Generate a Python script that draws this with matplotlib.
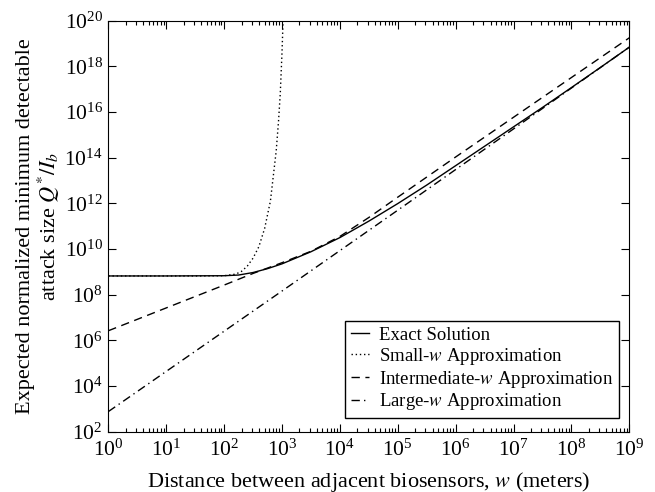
import numpy as np
import matplotlib
matplotlib.use("Agg")
import matplotlib.pyplot as plt
from matplotlib.ticker import LogLocator, NullLocator

plt.rcParams['font.family'] = ['Liberation Serif', 'DejaVu Serif']
plt.rcParams['mathtext.fontset'] = 'stix'

# ---- data (log10 values) ----
exact_logw = [0, 1, 2, 2.25, 2.5, 2.75, 3, 3.5, 4, 4.5, 5, 5.5, 6, 6.5, 7, 7.5, 8, 8.5, 9]
exact_logq = [8.82, 8.82, 8.83, 8.86, 8.97, 9.14, 9.35, 9.88, 10.50, 11.22, 11.99,
              12.80, 13.65, 14.50, 15.35, 16.20, 17.07, 17.95, 18.84]

small_logw = [0, 1, 1.5, 2.0, 2.2, 2.3, 2.4, 2.5, 2.6, 2.7, 2.8, 2.9, 2.94, 2.97, 3.0, 3.02, 3.04]
small_logq = [8.82, 8.82, 8.82, 8.83, 8.90, 9.02, 9.25, 9.60, 10.10, 10.90, 12.10, 14.30,
              15.60, 16.80, 18.60, 20.10, 21.0]

inter_logw = [0, 0.5, 1, 1.5, 2, 2.5, 3, 3.5, 4, 4.5, 5, 5.5, 6, 6.5, 7, 7.5, 8, 8.5, 9]
inter_logq = [6.42, 6.92, 7.42, 7.92, 8.42, 8.93, 9.40, 9.90, 10.55, 11.38, 12.27,
              13.15, 14.03, 14.90, 15.77, 16.64, 17.51, 18.38, 19.25]

large_logw = [0, 1, 2, 3, 4, 5, 6, 7, 8, 9]
large_logq = [2.88, 4.64, 6.40, 8.16, 9.93, 11.70, 13.48, 15.26, 17.05, 18.84]

def pw(a):
    return 10.0 ** np.array(a)

fig = plt.figure(figsize=(6.55, 4.92), dpi=100)
ax = fig.add_axes([0.1654, 0.1226, 0.7954, 0.8354])

ax.plot(pw(exact_logw), pw(exact_logq), color='black', lw=1.0, label='Exact Solution')
ax.plot(pw(small_logw), pw(small_logq), color='black', lw=1.0, linestyle=(0, (1, 2)),
        label='Small-$w$ Approximation')
ax.plot(pw(inter_logw), pw(inter_logq), color='black', lw=1.0, linestyle=(0, (6, 4)),
        label='Intermediate-$w$ Approximation')
ax.plot(pw(large_logw), pw(large_logq), color='black', lw=1.0, linestyle=(0, (6, 3, 1, 3)),
        label='Large-$w$ Approximation')

ax.set_xscale('log')
ax.set_yscale('log')
ax.set_xlim(1, 1e9)
ax.set_ylim(1e2, 1e20)

ax.xaxis.set_major_locator(LogLocator(base=10, numticks=20))
ax.xaxis.set_minor_locator(LogLocator(base=10, subs=np.arange(2, 10), numticks=20))
ax.yaxis.set_major_locator(LogLocator(base=100, numticks=20))
ax.yaxis.set_minor_locator(NullLocator())

ax.tick_params(which='both', direction='in', top=True, right=True, labelsize=15.5)
ax.tick_params(which='major', length=6, width=0.8)
ax.tick_params(which='minor', length=3, width=0.8)
ax.tick_params(axis='x', pad=6)
ax.tick_params(axis='y', pad=4)

ax.set_xlabel('Distance between adjacent biosensors, $w$ (meters)', fontsize=16, labelpad=6)
ax.set_ylabel('Expected normalized minimum detectable\nattack size $Q^{*}/I_b$', fontsize=16,
              linespacing=1.0, labelpad=2)

leg = ax.legend(loc='lower right', fontsize=13.5, handlelength=1.0, handletextpad=0.5,
                fancybox=False, framealpha=1, edgecolor='black', borderpad=0.3,
                labelspacing=0.1, borderaxespad=0, bbox_to_anchor=(0.980, 0.033))
leg.get_frame().set_linewidth(1.0)

fig.savefig('out.png', dpi=100)
